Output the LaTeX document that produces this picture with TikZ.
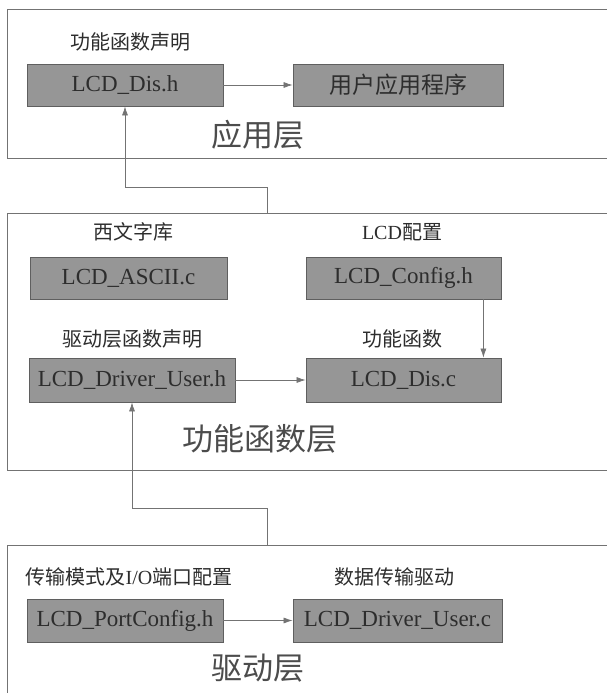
\documentclass[tikz,border=0pt]{standalone}
\usepackage{fontspec}
\setmainfont{Liberation Serif}
\newfontfamily\cjk{Noto Sans CJK SC}
\usetikzlibrary{arrows.meta}
\definecolor{boxfill}{RGB}{150,150,150}
\definecolor{boxline}{RGB}{95,95,95}
\definecolor{txt}{RGB}{45,45,45}
\definecolor{ln}{RGB}{115,115,115}
\begin{document}
\begin{tikzpicture}[x=1pt,y=-1pt,
  filebox/.style={draw=boxline, line width=0.8pt, fill=boxfill, text=txt, inner sep=0pt,
    font=\fontsize{23}{26}\selectfont},
  lbl/.style={text=txt, inner sep=0pt, font=\fontsize{20}{24}\selectfont},
  title/.style={text=txt!85, inner sep=0pt, font=\fontsize{31}{36}\selectfont\cjk},
  layer/.style={draw=ln, line width=0.8pt},
  conn/.style={draw=ln, line width=0.7pt},
  arr/.style={conn, -{Latex[length=9pt,width=6pt]}}]
\useasboundingbox (0,0) rectangle (607,693);
\clip (0,0) rectangle (607,693);
\fill[white] (0,0) rectangle (607,693);
% layers
\draw[layer] (7,9) rectangle (640,158);
\draw[layer] (7,213) rectangle (640,470);
\draw[layer] (7,545) rectangle (640,720);
% top layer
\node[filebox, minimum width=196pt, minimum height=42pt] (dish) at (125,85) {LCD\_Dis.h};
\node[filebox, minimum width=210pt, minimum height=42pt, font=\fontsize{23}{26}\selectfont\cjk] (app) at (398,85) {用户应用程序};
\node[lbl, font=\fontsize{20}{24}\selectfont\cjk] (l1) at (130,42) {功能函数声明};
\node[title] (t1) at (258,135) {应用层};
% middle layer
\node[filebox, minimum width=197pt, minimum height=42pt] (ascii) at (128.5,278) {LCD\_ASCII.c};
\node[filebox, minimum width=195pt, minimum height=42pt] (config) at (403.5,278) {LCD\_Config.h};
\node[filebox, minimum width=206pt, minimum height=44pt] (drvh) at (132,380) {LCD\_Driver\_User.h};
\node[filebox, minimum width=195pt, minimum height=44pt] (disc) at (403.5,380) {LCD\_Dis.c};
\node[lbl, font=\fontsize{20}{24}\selectfont\cjk] (l2) at (133,232) {西文字库};
\node[lbl] (l3) at (402,232) {LCD{\cjk 配置}};
\node[lbl, font=\fontsize{20}{24}\selectfont\cjk] (l4) at (132,339) {驱动层函数声明};
\node[lbl, font=\fontsize{20}{24}\selectfont\cjk] (l5) at (402,339) {功能函数};
\node[title] (t2) at (260,439) {功能函数层};
% bottom layer
\node[filebox, minimum width=196pt, minimum height=43pt] (port) at (125,620.5) {LCD\_PortConfig.h};
\node[filebox, minimum width=209pt, minimum height=43pt] (drvc) at (397.5,620.5) {LCD\_Driver\_User.c};
\node[lbl] (l6) at (129,577) {{\cjk 传输模式及}I/O{\cjk 端口配置}};
\node[lbl, font=\fontsize{20}{24}\selectfont\cjk] (l7) at (394,577) {数据传输驱动};
\node[title] (t3) at (258,668) {驱动层};
% connectors
\coordinate (m1) at (267,213);
\coordinate (b1) at (267,545);
\draw[arr] (dish) -- (app);
\draw[arr] (drvh) -- (disc);
\draw[arr] (port) -- (drvc);
\draw[arr] ([xshift=-18pt]config.south east) -- ([xshift=-18pt]config.south east |- disc.north);
\draw[arr] (m1) -- ++(0,-26) -| (dish.south);
\draw[arr] (b1) -- ++(0,-37) -| (drvh.south);
\end{tikzpicture}
\end{document}
